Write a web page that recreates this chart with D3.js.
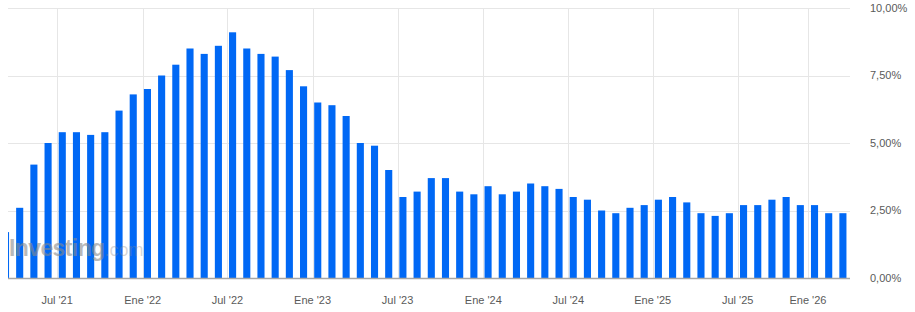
<!DOCTYPE html>
<html>
<head>
<meta charset="utf-8">
<script src="https://cdn.jsdelivr.net/npm/d3@7"></script>
<style>
  html, body { margin: 0; padding: 0; background: #fff; }
  svg { display: block; }
  text { font-family: "Liberation Sans", Arial, sans-serif; }
</style>
</head>
<body>
<div id="chart"></div>
<script>
// Reference months of each release (CPI y/y)
const months = [
  "2021-02","2021-03","2021-04","2021-05","2021-06","2021-07","2021-08","2021-09","2021-10","2021-11","2021-12",
  "2022-01","2022-02","2022-03","2022-04","2022-05","2022-06","2022-07","2022-08","2022-09","2022-10","2022-11","2022-12",
  "2023-01","2023-02","2023-03","2023-04","2023-05","2023-06","2023-07","2023-08","2023-09","2023-10","2023-11","2023-12",
  "2024-01","2024-02","2024-03","2024-04","2024-05","2024-06","2024-07","2024-08","2024-09","2024-10","2024-11","2024-12",
  "2025-01","2025-02","2025-03","2025-04","2025-05","2025-06","2025-07","2025-08","2025-09","2025-11","2025-12",
  "2026-01","2026-02"
];
// Release dates of each value
const releaseDates = [
  "2021-03-10","2021-04-13","2021-05-12","2021-06-10","2021-07-13","2021-08-11","2021-09-14","2021-10-13","2021-11-10","2021-12-10","2022-01-12",
  "2022-02-10","2022-03-10","2022-04-12","2022-05-11","2022-06-10","2022-07-13","2022-08-10","2022-09-13","2022-10-13","2022-11-10","2022-12-13","2023-01-12",
  "2023-02-14","2023-03-14","2023-04-12","2023-05-10","2023-06-13","2023-07-12","2023-08-10","2023-09-13","2023-10-12","2023-11-14","2023-12-12","2024-01-11",
  "2024-02-13","2024-03-12","2024-04-10","2024-05-15","2024-06-12","2024-07-11","2024-08-14","2024-09-11","2024-10-10","2024-11-13","2024-12-11","2025-01-15",
  "2025-02-12","2025-03-12","2025-04-10","2025-05-13","2025-06-11","2025-07-15","2025-08-12","2025-09-11","2025-10-24","2025-12-18","2026-01-13",
  "2026-02-11","2026-03-11"
];
const values = [
  1.7, 2.6, 4.2, 5.0, 5.4, 5.4, 5.3, 5.4, 6.2, 6.8, 7.0,
  7.5, 7.9, 8.5, 8.3, 8.6, 9.1, 8.5, 8.3, 8.2, 7.7, 7.1, 6.5,
  6.4, 6.0, 5.0, 4.9, 4.0, 3.0, 3.2, 3.7, 3.7, 3.2, 3.1, 3.4,
  3.1, 3.2, 3.5, 3.4, 3.3, 3.0, 2.9, 2.5, 2.4, 2.6, 2.7, 2.9,
  3.0, 2.8, 2.4, 2.3, 2.4, 2.7, 2.7, 2.9, 3.0, 2.7, 2.7,
  2.4, 2.4
];
const xTickDates  = ["2021-07-01","2022-01-01","2022-07-01","2023-01-01","2023-07-01","2024-01-01","2024-07-01","2025-01-01","2025-07-01","2026-01-01"];
const xTickLabels = ["Jul '21","Ene '22","Jul '22","Ene '23","Jul '23","Ene '24","Jul '24","Ene '25","Jul '25","Ene '26"];
const yTicks      = [0, 2.5, 5, 7.5, 10];
const yTickLabels = ["0,00%","2,50%","5,00%","7,50%","10,00%"];

const W = 915, H = 312;
const plot = { left: 8, right: 850, top: 8, bottom: 278 };

const svg = d3.select("#chart").append("svg").attr("width", W).attr("height", H);

const x = d3.scaleBand()
  .domain(months)
  .range([-1.6, plot.right])
  .paddingInner(0.5)
  .paddingOuter(0.25);

const y = d3.scaleLinear().domain([0, 10]).range([plot.bottom, plot.top]);

// tick position: interpolate between release dates on the bar-index axis
const rel = releaseDates.map(d => new Date(d + "T00:00:00Z"));
function tickX(ds) {
  const t = new Date(ds + "T00:00:00Z");
  let i = d3.bisectRight(rel, t) - 1;
  const f = (t - rel[i]) / (rel[i + 1] - rel[i]);
  const c0 = x(months[i]) + x.bandwidth() / 2;
  const c1 = x(months[i + 1]) + x.bandwidth() / 2;
  return c0 + f * (c1 - c0);
}

svg.append("defs").append("clipPath").attr("id", "clip")
  .append("rect").attr("x", plot.left).attr("y", 0)
  .attr("width", plot.right - plot.left).attr("height", plot.bottom);

// horizontal grid
svg.append("g").selectAll("line").data(yTicks.filter(d => d > 0)).join("line")
  .attr("x1", plot.left).attr("x2", plot.right)
  .attr("y1", d => Math.round(y(d)) + 0.5).attr("y2", d => Math.round(y(d)) + 0.5)
  .attr("stroke", "#e6e6e6").attr("stroke-width", 1);

// vertical grid
svg.append("g").selectAll("line").data(xTickDates).join("line")
  .attr("x1", d => Math.round(tickX(d)) + 0.5).attr("x2", d => Math.round(tickX(d)) + 0.5)
  .attr("y1", plot.top).attr("y2", plot.bottom)
  .attr("stroke", "#e6e6e6").attr("stroke-width", 1);

// bars
svg.append("g").attr("clip-path", "url(#clip)")
  .selectAll("rect").data(values).join("rect")
  .attr("x", (d, i) => x(months[i]))
  .attr("width", x.bandwidth())
  .attr("y", d => y(d))
  .attr("height", d => y(0) - y(d))
  .attr("fill", "#0068f5");

// baseline
svg.append("line")
  .attr("x1", plot.left).attr("x2", plot.right)
  .attr("y1", plot.bottom + 0.5).attr("y2", plot.bottom + 0.5)
  .attr("stroke", "#a6a6a6").attr("stroke-width", 1.5);

// watermark
const wm = svg.append("text").attr("x", 9).attr("y", 256)
  .style("font-family", "'Liberation Sans', Arial, sans-serif");
wm.append("tspan").text("Investing")
  .attr("font-size", 23).attr("font-weight", "bold")
  .attr("letter-spacing", -0.6)
  .attr("fill", "#8a8a8a").attr("fill-opacity", 0.6);
wm.append("tspan").text(".com")
  .attr("font-size", 18)
  .attr("fill", "#8a8a8a").attr("fill-opacity", 0.35);

// y axis labels
svg.append("g").selectAll("text").data(yTicks).join("text")
  .attr("x", 870).attr("y", d => y(d))
  .attr("dy", "0.35em")
  .attr("font-size", 11)
  .attr("fill", "#5a5a5a")
  .text((d, i) => yTickLabels[i]);

// x axis labels
svg.append("g").selectAll("text").data(xTickDates).join("text")
  .attr("x", d => tickX(d)).attr("y", 304)
  .attr("text-anchor", "middle")
  .attr("font-size", 11)
  .attr("fill", "#5a5a5a")
  .text((d, i) => xTickLabels[i]);
</script>
</body>
</html>
